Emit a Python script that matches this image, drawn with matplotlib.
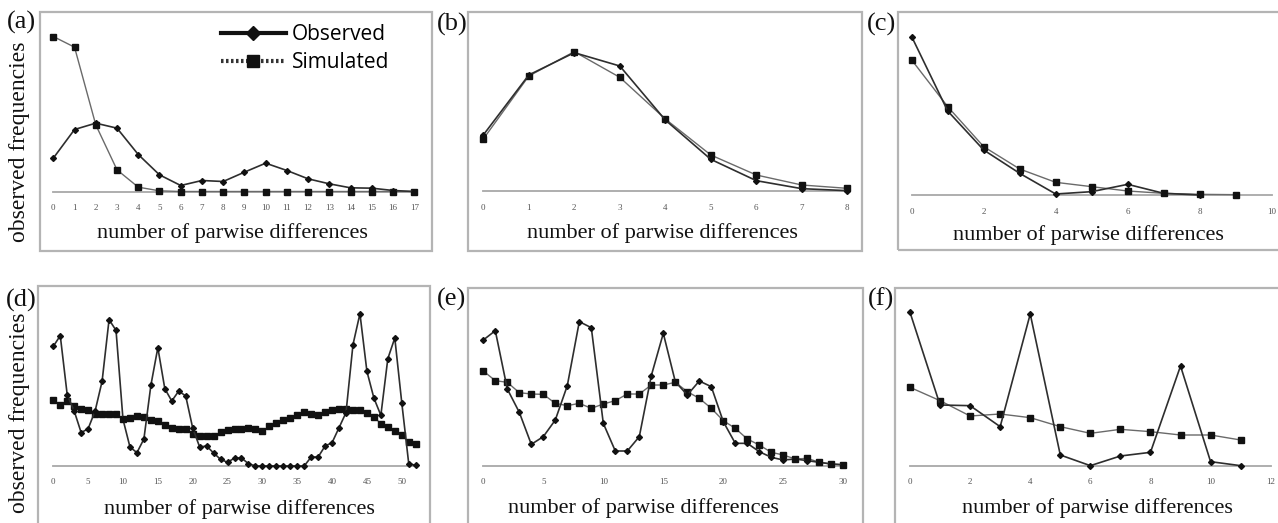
import matplotlib
matplotlib.use("Agg")
import matplotlib.pyplot as plt
from matplotlib.lines import Line2D
from matplotlib.patches import Rectangle

W, H = 1278, 523

# ---------------- data (relative frequencies, arbitrary units) ----------------
a_x = list(range(18))
a_obs = [100, 186, 205, 190, 111, 50, 18, 33, 30, 58, 85, 63, 38, 23, 11, 10, 3, 0]
a_sim = [465, 433, 200, 65, 13, 2, 0, 0, 0, 0, 0, 0, 0, 0, 0, 0, 0, 0]
a_ticks = list(range(18))

b_x = list(range(9))
b_obs = [168, 348, 415, 375, 213, 95, 31, 7, 1]
b_sim = [156, 345, 418, 341, 216, 108, 48, 18, 8]
b_ticks = list(range(9))

c_x_obs = list(range(9))
c_obs = [475, 252, 135, 65, 3, 10, 32, 5, 0]
c_x_sim = list(range(10))
c_sim = [405, 265, 145, 78, 38, 25, 12, 5, 2, 1]
c_ticks = [0, 2, 4, 6, 8, 10]

d_x = list(range(53))
d_obs = [359, 391, 213, 165, 100, 112, 165, 254, 439, 407,
         140, 57, 40, 81, 242, 355, 232, 195, 225, 210,
         114, 57, 60, 39, 20, 11, 24, 24, 7, 0,
         0, 0, 0, 0, 0, 0, 0, 27, 27, 60,
         70, 115, 160, 364, 457, 284, 204, 152, 322, 384,
         190, 7, 2]
d_sim = [197, 184, 194, 179, 172, 169, 157, 157, 157, 155,
         140, 145, 150, 147, 137, 135, 124, 115, 112, 110,
         97, 89, 89, 89, 102, 109, 110, 112, 114, 112,
         104, 119, 129, 139, 145, 152, 162, 155, 152, 162,
         169, 172, 170, 169, 169, 159, 147, 127, 117, 104,
         92, 72, 67]
d_ticks = [0, 5, 10, 15, 20, 25, 30, 35, 40, 45, 50]

e_x = list(range(31))
e_obs = [378, 406, 231, 161, 65, 88, 138, 241, 433, 415,
         128, 45, 45, 88, 271, 398, 253, 213, 255, 238,
         133, 68, 68, 43, 26, 18, 21, 16, 11, 6, 4]
e_sim = [285, 256, 251, 220, 216, 215, 188, 181, 188, 173,
         186, 196, 216, 216, 243, 243, 251, 223, 203, 173,
         136, 113, 81, 63, 41, 33, 21, 23, 11, 6, 3]
e_ticks = [0, 5, 10, 15, 20, 25, 30]

f_x = list(range(12))
f_obs = [461, 183, 181, 118, 456, 33, 1, 30, 41, 300, 13, 1]
f_sim = [236, 196, 150, 156, 145, 118, 98, 110, 103, 93, 93, 78]
f_ticks = [0, 2, 4, 6, 8, 10, 12]

labels = ["(a)", "(b)", "(c)", "(d)", "(e)", "(f)"]
legend_labels = ["Observed", "Simulated"]
xlabel = "number of parwise differences"
ylabel = "observed frequencies"

# ---------------- figure ----------------
fig = plt.figure(figsize=(W / 100, H / 100), dpi=100)
fig.patch.set_facecolor("white")

SERIF = ["Liberation Serif", "DejaVu Serif"]
OBS_C = "#2e2e2e"
SIM_C = "#6a6a6a"
FRAME_C = "#b4b4b4"


def frame(x0, y0, x1, y1):
    fig.add_artist(Rectangle((x0 / W, 1 - y1 / H), (x1 - x0) / W, (y1 - y0) / H,
                             transform=fig.transFigure, fill=False,
                             ec=FRAME_C, lw=1.6, zorder=0))


def panel(left, right, base, top, xmax, ticks, xo, yo, xs, ys, big_sq=False):
    ax = fig.add_axes([left / W, 1 - base / H, (right - left) / W, (base - top) / H])
    ax.set_xlim(0, xmax)
    ax.set_ylim(0, (base - top) * 3)
    ax.patch.set_alpha(0)
    for s in ["top", "left", "right"]:
        ax.spines[s].set_visible(False)
    ax.spines["bottom"].set_color("#a8a8a8")
    ax.spines["bottom"].set_linewidth(1.3)
    ax.set_yticks([])
    ax.set_xticks(ticks)
    ax.set_xticklabels([str(t) for t in ticks], family=SERIF)
    ax.tick_params(axis="x", length=0, pad=9, labelsize=6.5, labelcolor="#555555")
    ax.plot(xs, ys, color=SIM_C, lw=1.0, marker="s", ms=5 if big_sq else 4.5,
            mfc="#111111", mec="#111111", clip_on=False, zorder=3)
    ax.plot(xo, yo, color=OBS_C, lw=1.2, marker="D", ms=3.0,
            mfc="#111111", mec="#111111", clip_on=False, zorder=4)
    return ax


# frames
frame(40, 12, 432, 251)
frame(468, 12, 862, 251)
frame(898, 12, 1295, 250)
frame(38, 286, 430, 540)
frame(468, 288, 863, 540)
frame(895, 288, 1295, 540)

ax_a = panel(53.3, 414.3, 191.5, 20, 17, a_ticks, a_x, a_obs, a_x, a_sim)
panel(483.3, 847.3, 191, 20, 8, b_ticks, b_x, b_obs, b_x, b_sim)
panel(911.7, 1271.7, 195, 20, 10, c_ticks, c_x_obs, c_obs, c_x_sim, c_sim)
panel(53.3, 415.7, 466, 300, 52, d_ticks, d_x, d_obs, d_x, d_sim, big_sq=True)
panel(483.3, 843.3, 466, 300, 30, e_ticks, e_x, e_obs, e_x, e_sim)
panel(910, 1270.7, 466, 300, 12, f_ticks, f_x, f_obs, f_x, f_sim)

# panel letters
for lab, (x, y) in zip(labels, [(21, 22), (452, 24), (882, 24),
                                (21, 300), (452, 299), (881, 299)]):
    fig.text(x / W, 1 - y / H, lab, ha="center", va="center",
             family=SERIF, size=19, color="#111111")

# x labels
for (x, y) in [(232, 233), (662, 233), (1088, 235),
               (239, 509), (643, 508), (1097, 508)]:
    fig.text(x / W, 1 - y / H, xlabel, ha="center", va="center",
             family=SERIF, size=16, color="#111111")

# y labels
for (x, y) in [(20, 142), (20, 413)]:
    fig.text(x / W, 1 - y / H, ylabel, ha="center", va="center", rotation=90,
             family=SERIF, size=17, color="#111111")

# legend
handles = [
    Line2D([], [], color="#111111", lw=3, marker="D", ms=7, mfc="#111111"),
    Line2D([], [], color="#333333", lw=3, ls=(0, (0.6, 0.6)), marker="s", ms=9,
           mfc="#111111", mec="#111111"),
]
fig.legend(handles, legend_labels, loc="upper left",
           bbox_to_anchor=(221 / W, 1 - 24 / H), bbox_transform=fig.transFigure,
           frameon=False, handlelength=3.1, handletextpad=0.3,
           labelspacing=0.33, borderpad=0, borderaxespad=0,
           prop={"family": ["Open Sans", "DejaVu Sans"], "size": 15})

fig.savefig("out.png", dpi=100, facecolor="white")
